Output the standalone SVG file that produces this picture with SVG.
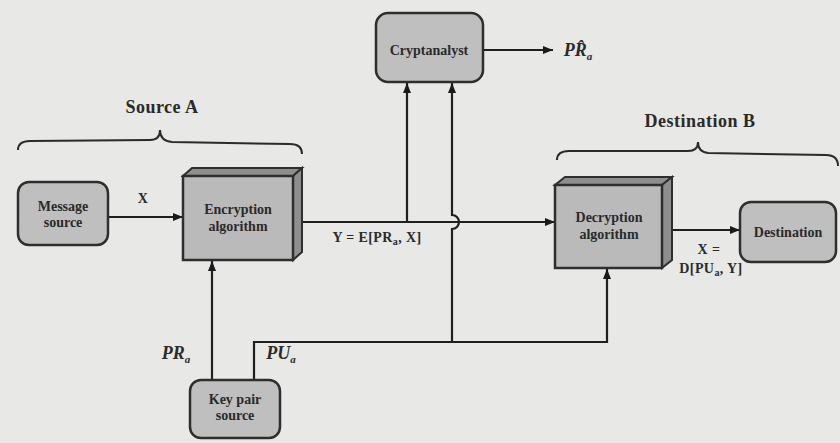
<svg xmlns="http://www.w3.org/2000/svg" width="840" height="443" viewBox="0 0 840 443">
<defs>
<marker id="ah" viewBox="0 0 10 8" refX="10" refY="4" markerWidth="10" markerHeight="8" markerUnits="userSpaceOnUse" orient="auto">
<path d="M0,0 L10,4 L0,8 Z" fill="#1a1a1a"/>
</marker>
<style>
.bg{fill:#e8e8e6}
.box{fill:#bfbfbf;stroke:#2e2e2e;stroke-width:2.5}
.face{fill:#bababa;stroke:#2e2e2e;stroke-width:2.5}
.side{fill:#8e8e8e;stroke:#2e2e2e;stroke-width:2}
.line{fill:none;stroke:#1f1f1f;stroke-width:2.2}
.arr{fill:none;stroke:#1f1f1f;stroke-width:2.2;marker-end:url(#ah)}
.brace{fill:none;stroke:#2a2a2a;stroke-width:2}
.t{font-family:"Liberation Serif","Times New Roman",serif;font-weight:bold;font-size:14px;fill:#2a2a2a;text-anchor:middle}
.h{font-family:"Liberation Serif","Times New Roman",serif;font-weight:bold;font-size:18px;letter-spacing:0.5px;fill:#2a2a2a;text-anchor:middle}
.lab{font-family:"Liberation Serif","Times New Roman",serif;font-weight:bold;font-size:14px;letter-spacing:0.4px;fill:#2a2a2a;text-anchor:middle}
.it{font-family:"Liberation Serif","Times New Roman",serif;font-weight:bold;font-style:italic;font-size:18px;fill:#2a2a2a;text-anchor:middle}
</style>
</defs>
<rect class="bg" x="0" y="0" width="840" height="443"/>

<g id="connectors">
<path class="arr" d="M108,217 H183"/>
<path class="line" d="M293,222 H553"/>
<path class="arr" d="M553,222 H555"/>
<path class="arr" d="M407,222 V83"/>
<path class="arr" d="M452,342 V229 A7,7 0 0 0 452,215 V83"/>
<path class="arr" d="M483,50 H553"/>
<path class="arr" d="M672,230 H740"/>
<path class="arr" d="M212,380 V261"/>
<path class="arr" d="M254,380 V342 H607 V269"/>
</g>

<g id="source-a">
<path class="brace" d="M18,150 Q18,141 30,141 L150,140 Q160,140 160,130 Q160,141 172,142 L290,144 Q302,144 302,154"/>
<text class="h" x="162" y="113">Source A</text>
</g>

<g id="destination-b">
<path class="brace" d="M557,160 Q557,151 569,151 L688,151 Q698,151 698,142 Q698,152 708,153 L826,155 Q838,155 838,166"/>
<text class="h" x="700" y="127">Destination B</text>
</g>

<g id="message-source">
<rect class="box" x="18" y="182" width="90" height="63" rx="11"/>
<text class="t" x="63" y="211">Message</text>
<text class="t" x="63" y="227">source</text>
</g>
<text class="lab" x="143" y="203">X</text>

<g id="encryption">
<polygon class="side" points="183,176 293,176 302,168 192,168"/>
<polygon class="side" points="293,176 302,168 302,252 293,260"/>
<rect class="face" x="183" y="176" width="110" height="84"/>
<text class="t" x="238" y="214">Encryption</text>
<text class="t" x="238" y="231">algorithm</text>
</g>
<text class="lab" x="377" y="242">Y = E[PR<tspan font-size="10" dy="3">a</tspan><tspan dy="-3">, X]</tspan></text>

<g id="cryptanalyst">
<rect class="box" x="376" y="13" width="107" height="69" rx="12"/>
<text class="t" x="429" y="55">Cryptanalyst</text>
</g>
<text class="it" x="578" y="56">PR̂<tspan font-size="11" dy="4">a</tspan></text>

<g id="decryption">
<polygon class="side" points="555,185 662,185 672,177 565,177"/>
<polygon class="side" points="662,185 672,177 672,260 662,268"/>
<rect class="face" x="555" y="185" width="107" height="83"/>
<text class="t" x="609" y="222">Decryption</text>
<text class="t" x="609" y="239">algorithm</text>
</g>
<text class="lab" x="709" y="254">X =</text>
<text class="lab" x="711" y="273">D[PU<tspan font-size="10" dy="3">a</tspan><tspan dy="-3">, Y]</tspan></text>

<g id="destination">
<rect class="box" x="740" y="202" width="96" height="60" rx="11"/>
<text class="t" x="788" y="237">Destination</text>
</g>

<g id="key-pair-source">
<rect class="box" x="190" y="380" width="90" height="58" rx="11"/>
<text class="t" x="235" y="404">Key pair</text>
<text class="t" x="235" y="420">source</text>
</g>
<text class="it" x="176" y="359">PR<tspan font-size="11" dy="4">a</tspan></text>
<text class="it" x="281" y="359">PU<tspan font-size="11" dy="4">a</tspan></text>
</svg>
